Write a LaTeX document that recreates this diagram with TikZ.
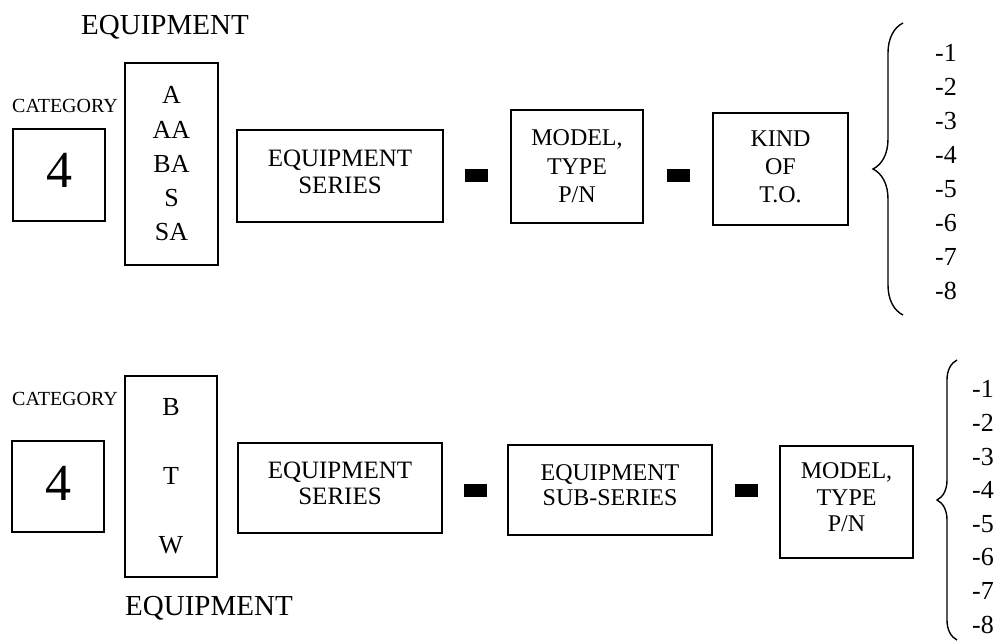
\documentclass[tikz,border=0pt]{standalone}
\usepackage{fontspec}
\setmainfont{Liberation Serif}
\usetikzlibrary{decorations.pathreplacing}

\begin{document}
\begin{tikzpicture}[x=1pt,y=-1pt,
  box/.style={draw,line width=1.5pt,inner sep=0pt,align=center,font=\fontsize{24}{28}\selectfont},
  txt/.style={inner sep=0pt,align=center},
  bar/.style={fill=black,inner sep=0pt,minimum width=23pt,minimum height=13pt},
  nums/.style={inner sep=0pt,align=left,anchor=west},
  brc/.style={decorate,decoration={brace,amplitude=#1},line width=1.4pt}]
\useasboundingbox (0,0) rectangle (1007,642);
% upper row
\node[txt,anchor=base,font=\fontsize{29}{34}\selectfont] (eqA) at (165,35) {EQUIPMENT};
\node[txt,anchor=base,font=\fontsize{20}{24}\selectfont] (catA) at (65,113) {CATEGORY};
\node[box,minimum width=92pt,minimum height=92pt] (fourA) at (59,175) {};
\node[txt,font=\fontsize{52}{60}\selectfont] (fourAt) at ([yshift=5pt]fourA.center) {4};
\node[box,minimum width=93pt,minimum height=202pt,font=\fontsize{26}{34.25}\selectfont] (letA) at (171.5,164) {A\\AA\\BA\\S\\SA};
\node[box,minimum width=206pt,minimum height=92pt] (serA) at (340,176) {};
\node[txt,font=\fontsize{25}{27}\selectfont] (serAt) at ([yshift=4.5pt]serA.center) {EQUIPMENT\\SERIES};
\node[bar] (barA1) at (476.5,175) {};
\node[box,minimum width=132pt,minimum height=113pt,font=\fontsize{24}{28.5}\selectfont] (modA) at (577,166.5) {MODEL,\\TYPE\\P/N};
\node[bar] (barA2) at (678,175) {};
\node[box,minimum width=135pt,minimum height=112pt] (kindA) at (780.5,169) {};
\node[txt,font=\fontsize{24}{28}\selectfont] (kindAt) at ([yshift=2.5pt]kindA.center) {KIND\\OF\\T.O.};
\coordinate (brA1) at (903,315); \coordinate (brA2) at (903,23);
\draw[brc=30pt] (brA1) -- (brA2);
\node[nums,font=\fontsize{26}{34}\selectfont] (numA) at (935,172.5) {-1\\-2\\-3\\-4\\-5\\-6\\-7\\-8};
% lower row
\node[txt,anchor=base,font=\fontsize{20}{24}\selectfont] (catB) at (65,405) {CATEGORY};
\node[box,minimum width=92pt,minimum height=91pt] (fourB) at (58,486.5) {};
\node[txt,font=\fontsize{52}{60}\selectfont] (fourBt) at ([yshift=3pt]fourB.center) {4};
\node[box,minimum width=92pt,minimum height=201pt,font=\fontsize{26}{69}\selectfont] (letB) at (171,476.5) {B\\T\\W};
\node[txt,anchor=base,font=\fontsize{29}{34}\selectfont] (eqB) at (209,615) {EQUIPMENT};
\node[box,minimum width=204pt,minimum height=90pt] (serB) at (340,488) {};
\node[txt,font=\fontsize{25}{25.5}\selectfont] (serBt) at ([yshift=4.5pt]serB.center) {EQUIPMENT\\SERIES};
\node[bar] (barB1) at (475,490) {};
\node[box,minimum width=204pt,minimum height=90pt] (subB) at (610,490) {};
\node[txt,font=\fontsize{24}{24.5}\selectfont] (subBt) at ([yshift=5pt]subB.center) {EQUIPMENT\\SUB-SERIES};
\node[bar] (barB2) at (746,490) {};
\node[box,minimum width=133pt,minimum height=112pt] (modB) at (846.5,502) {};
\node[txt,font=\fontsize{24}{26.5}\selectfont] (modBt) at ([yshift=4.5pt]modB.center) {MODEL,\\TYPE\\P/N};
\coordinate (brB1) at (957,640); \coordinate (brB2) at (957,360);
\draw[brc=20pt] (brB1) -- (brB2);
\node[nums,font=\fontsize{26}{33.6}\selectfont] (numB) at (972,507) {-1\\-2\\-3\\-4\\-5\\-6\\-7\\-8};
\end{tikzpicture}
\end{document}
